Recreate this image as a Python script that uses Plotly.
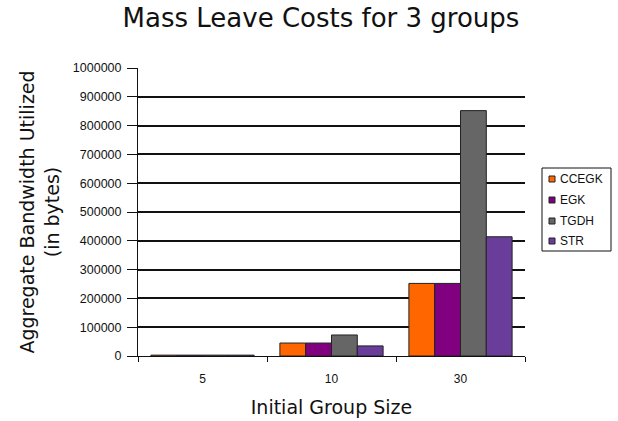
import plotly.graph_objects as go

categories = ["5", "10", "30"]
series_names = ["CCEGK", "EGK", "TGDH", "STR"]
CCEGK = [3000, 45000, 252000]
EGK = [3000, 45000, 252000]
TGDH = [3000, 73000, 852000]
STR = [3000, 35000, 414000]
colors = ["#FF6600", "#800080", "#666666", "#6A3D9A"]
y_ticks = list(range(0, 1000001, 100000))

W, H = 618, 421
ML, MR, MT, MB = 138, 93, 68, 65
PW, PH = W - ML - MR, H - MT - MB


def px_x(px):
    return (px - ML) / PW


def px_y(py):
    return (H - MB - py) / PH


fig = go.Figure()
for name, vals, col in zip(series_names, [CCEGK, EGK, TGDH, STR], colors):
    fig.add_trace(go.Bar(
        x=categories, y=vals, name=name, showlegend=False,
        marker=dict(color=col, line=dict(color="#222222", width=1)),
    ))

# custom legend box (drawn to match the reference's compact legend)
shapes = [dict(type="rect", xref="paper", yref="paper",
               x0=px_x(542), x1=px_x(611), y0=px_y(251), y1=px_y(168),
               line=dict(color="#111111", width=1), fillcolor="white")]
annotations = []
row_y = [179, 200, 221, 241]
for name, col, ry in zip(series_names, colors, row_y):
    shapes.append(dict(type="rect", xref="paper", yref="paper",
                       x0=px_x(549), x1=px_x(555), y0=px_y(ry + 3), y1=px_y(ry - 3),
                       line=dict(color="#222222", width=1), fillcolor=col))
    annotations.append(dict(text=name, xref="paper", yref="paper",
                            x=px_x(558), y=px_y(ry), xanchor="left", yanchor="middle",
                            showarrow=False,
                            font=dict(family="Liberation Sans", size=12, color="#111111")))

fig.update_layout(
    width=W, height=H,
    barmode="group", bargap=0.2, bargroupgap=0,
    paper_bgcolor="white", plot_bgcolor="white",
    margin=dict(l=ML, r=MR, t=MT, b=MB, autoexpand=False),
    title=dict(text="Mass Leave Costs for 3 groups", x=(321 / W), xanchor="center",
               y=1 - 18 / H, yanchor="middle",
               font=dict(family="DejaVu Sans", size=26, color="#111111")),
    font=dict(family="Liberation Sans", color="#111111"),
    showlegend=False,
    shapes=shapes,
    annotations=annotations,
    xaxis=dict(
        type="category", showline=True, linecolor="#111111", linewidth=1,
        ticks="outside", tickson="boundaries", ticklen=5, tickcolor="#111111",
        ticklabelstandoff=12,
        tickfont=dict(family="Liberation Sans", size=12),
        title=dict(text="Initial Group Size", standoff=15,
                   font=dict(family="DejaVu Sans", size=19)),
        showgrid=False,
    ),
    yaxis=dict(
        range=[0, 1000000], tickvals=y_ticks, tickformat="d",
        showline=True, linecolor="#111111", linewidth=1,
        ticks="outside", ticklen=10, tickcolor="#111111",
        ticklabelstandoff=3,
        tickfont=dict(family="Liberation Sans", size=12.5),
        showgrid=True, gridcolor="#111111", gridwidth=1.5,
        zeroline=False,
        title=dict(text="Aggregate Bandwidth Utilized<br>(in bytes)", standoff=8,
                   font=dict(family="DejaVu Sans", size=19)),
    ),
)

fig.write_html("out.html")
